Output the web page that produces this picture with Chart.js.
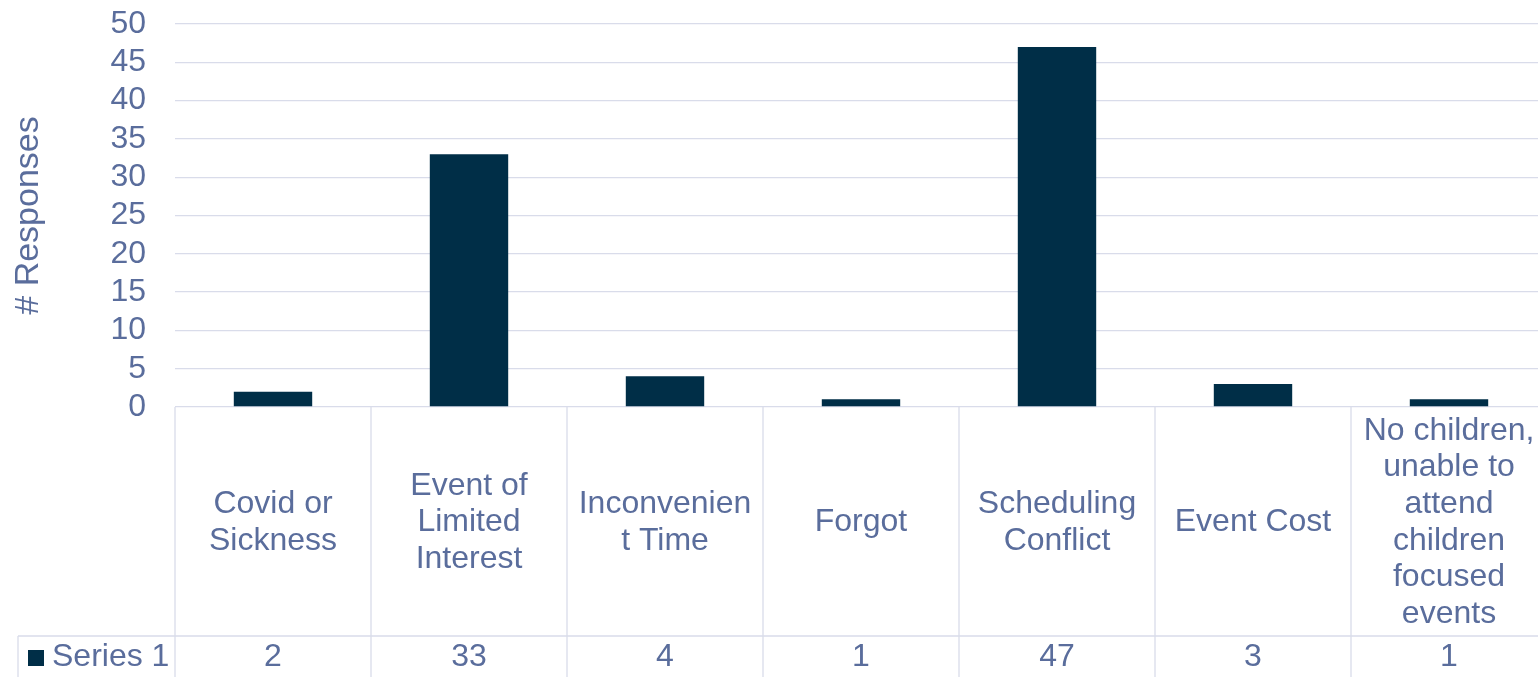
<!DOCTYPE html>
<html>
<head>
<meta charset="utf-8">
<script src="https://cdn.jsdelivr.net/npm/chart.js@4/dist/chart.umd.min.js"></script>
<style>
  html, body { margin: 0; padding: 0; background: #fff; }
  #frame { width: 1538px; height: 677px; overflow: hidden; position: relative; }
  #wrap { width: 1548px; height: 677px; position: absolute; left: 0; top: 0; }
</style>
</head>
<body>
<div id="frame"><div id="wrap"><canvas id="chart"></canvas></div></div>
<script>
const categories = [
  ['Covid or', 'Sickness'],
  ['Event of', 'Limited', 'Interest'],
  ['Inconvenien', 't Time'],
  ['Forgot'],
  ['Scheduling', 'Conflict'],
  ['Event Cost'],
  ['No children,', 'unable to', 'attend', 'children', 'focused', 'events']
];
const responses = [2, 33, 4, 1, 47, 3, 1];
const seriesName = 'Series 1';
const axisTitle = '# Responses';

const textColor = '#5a6d9c';
const gridColor = '#d9dcea';
const barColor = '#002e47';
const fontFamily = '"Liberation Sans", Arial, sans-serif';
const fontSize = 32;

// draws the Excel-style data table under the plot
const dataTable = {
  id: 'dataTable',
  afterDraw(chart) {
    const ctx = chart.ctx;
    const x = chart.scales.x;
    const area = chart.chartArea;
    const top = area.bottom;
    const rowY = 636;
    const bottom = chart.height;
    const step = (area.right - area.left) / chart.data.labels.length;

    ctx.save();
    ctx.strokeStyle = gridColor;
    ctx.lineWidth = 1.3;
    ctx.beginPath();
    for (let i = 0; i <= chart.data.labels.length; i++) {
      const px = area.left + i * step;
      ctx.moveTo(px, top);
      ctx.lineTo(px, bottom);
    }
    ctx.moveTo(18, rowY);
    ctx.lineTo(area.right, rowY);
    ctx.moveTo(18, rowY);
    ctx.lineTo(18, bottom);
    ctx.stroke();

    ctx.fillStyle = textColor;
    ctx.font = fontSize + 'px ' + fontFamily;
    ctx.textAlign = 'center';
    ctx.textBaseline = 'middle';
    const lh = 36.7;
    const midY = (top + rowY) / 2;
    chart.data.labels.forEach((lines, i) => {
      const cx = x.getPixelForValue(i);
      const y0 = midY - (lines.length - 1) * lh / 2;
      lines.forEach((t, j) => ctx.fillText(t, cx, y0 + j * lh + 1));
      ctx.fillText(String(chart.data.datasets[0].data[i]), cx, (rowY + bottom) / 2 + 1);
    });

    // legend key + series name
    ctx.fillStyle = barColor;
    ctx.fillRect(28, 650, 16, 16);
    ctx.fillStyle = textColor;
    ctx.textAlign = 'left';
    ctx.fillText(chart.data.datasets[0].label, 52, (rowY + bottom) / 2 + 1);
    ctx.restore();
  }
};

new Chart(document.getElementById('chart'), {
  type: 'bar',
  data: {
    labels: categories,
    datasets: [{
      label: seriesName,
      data: responses,
      backgroundColor: barColor,
      barPercentage: 0.4,
      categoryPercentage: 1.0
    }]
  },
  options: {
    responsive: true,
    maintainAspectRatio: false,
    animation: false,
    layout: { padding: { top: 0, right: 1, bottom: 270, left: 0 } },
    plugins: { legend: { display: false }, tooltip: { enabled: false } },
    scales: {
      x: { display: false },
      y: {
        min: 0,
        max: 50,
        ticks: { stepSize: 5, autoSkip: false, color: textColor, padding: 29, font: { family: fontFamily, size: fontSize } },
        grid: { color: gridColor, lineWidth: 1.3, drawTicks: false },
        border: { display: false },
        title: {
          display: true,
          text: axisTitle,
          color: textColor,
          font: { family: fontFamily, size: 34 },
          padding: { top: 8, bottom: 0 }
        },
        afterFit(scale) {
          scale.width = 175;
          scale.paddingTop = 24;
          scale.paddingBottom = 0;
        }
      }
    }
  },
  plugins: [dataTable]
});
</script>
</body>
</html>
